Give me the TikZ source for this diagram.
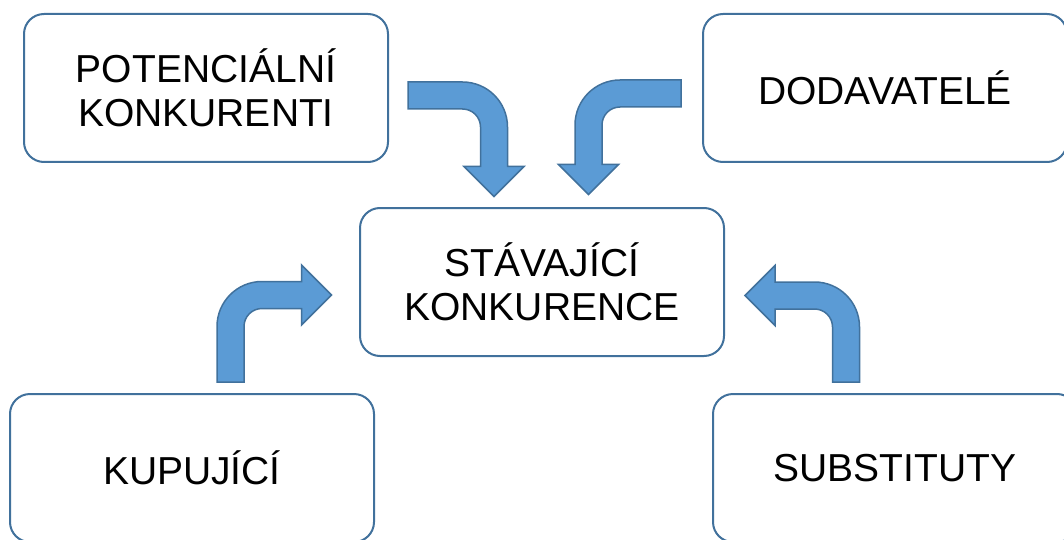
\documentclass[tikz,border=0pt]{standalone}
\usepackage{fontspec}
\setmainfont{Liberation Sans}
\usetikzlibrary{positioning}
\definecolor{boxline}{HTML}{41719C}
\definecolor{arrowfill}{HTML}{5B9BD5}

\tikzset{
    box/.style={
        rectangle,
        rounded corners=20pt,
        draw=boxline,
        line width=2pt,
        fill=white,
        minimum width=364pt,  % all five boxes have the same size
        minimum height=148pt,
        inner sep=0pt,
        align=center,
        font=\fontsize{39}{44}\selectfont
    },
    arrowshape/.style={
        fill=arrowfill,
        draw=boxline,
        line width=1.5pt,
        line join=miter
    },
    % bent arrow: tail comes from the left, turns and points down
    pics/bentarrow/.style={code={
        \draw[arrowshape] (-#1,-13.5) -- (-31.5,-13.5)
            .. controls (-6.65,-13.5) and (13.5,6.65) .. (13.5,31.5)
            -- (13.5,71) -- (30,71) -- (0,101) -- (-30,71) -- (-13.5,71)
            -- (-13.5,31.5)
            .. controls (-13.5,21.56) and (-21.56,13.5) .. (-31.5,13.5)
            -- (-#1,13.5) -- cycle;
    }}
}

\begin{document}
\begin{tikzpicture}[x=1pt,y=-1pt]
\useasboundingbox (0,0) rectangle (1064,540);

\node[box] (stav) at (542,282) {STÁVAJÍCÍ\\KONKURENCE};
\node[box] (pot)  at (206,88)  {POTENCIÁLNÍ\\KONKURENTI};
\node[box] (dod)  at (885,88)  {DODAVATELÉ};
\node[box] (kup)  at (192,468) {KUPUJÍCÍ};
\node[box] (sub)  at (895,468) {SUBSTITUTY};

\pic at (494,95.5) {bentarrow=86};
\pic[xscale=-1] at (588.5,93.5) {bentarrow=92.5};
\pic[rotate=90] at (230.5,295) {bentarrow=87};
\pic[xscale=-1,rotate=90] at (846,295.5) {bentarrow=86.5};
\end{tikzpicture}
\end{document}
